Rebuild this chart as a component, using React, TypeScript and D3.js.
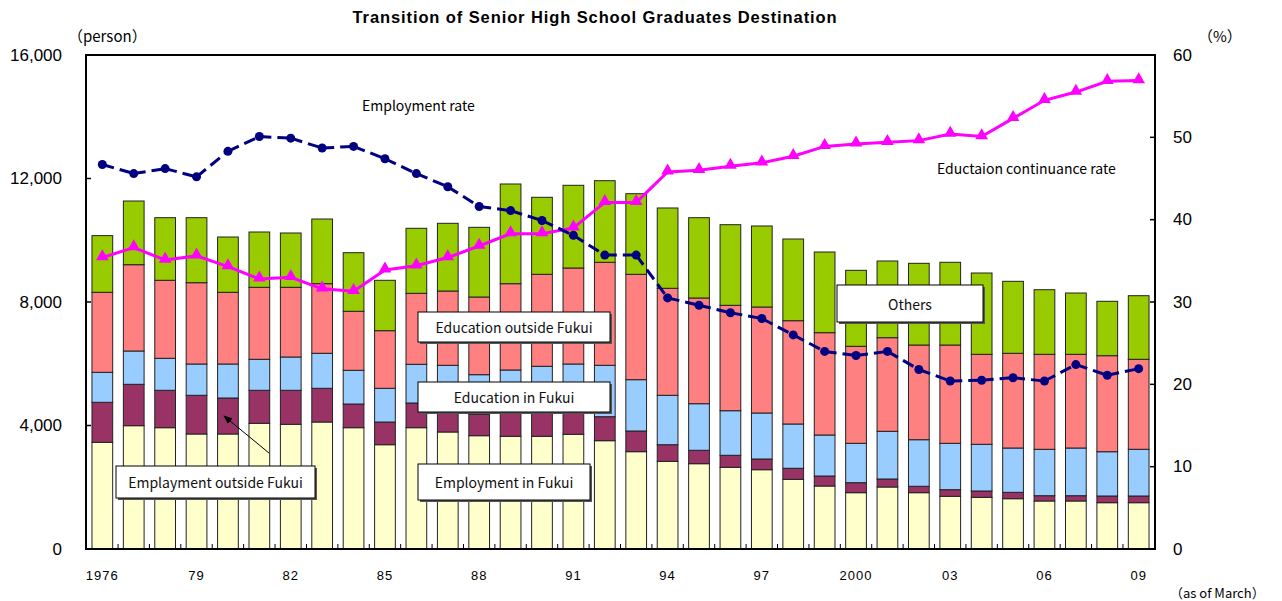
import React from 'react';
import * as d3 from 'd3';

// fiscal years 1976..2009 (as of March)
const years = d3.range(1976, 2010);
const yearLabels = ['1976', '', '', '79', '', '', '82', '', '', '85', '', '', '88', '', '', '91', '', '', '94', '', '', '97', '', '', '2000', '', '', '03', '', '', '06', '', '', '09'];

// persons, bottom to top of each stack
const employmentInFukui = [3456, 3994, 3929, 3725, 3725, 4071, 4039, 4113, 3929, 3378, 3929, 3790, 3670, 3650, 3650, 3715, 3508, 3152, 2840, 2763, 2646, 2568, 2257, 2040, 1824, 2008, 1824, 1707, 1674, 1629, 1555, 1555, 1500, 1500];
const employmentOutside = [1295, 1340, 1211, 1253, 1166, 1069, 1101, 1092, 767, 735, 800, 810, 693, 800, 800, 785, 777, 670, 538, 434, 389, 347, 357, 324, 324, 259, 207, 214, 205, 207, 171, 171, 217, 217];
const educationInFukui = [972, 1079, 1037, 1014, 1101, 1004, 1079, 1134, 1092, 1092, 1253, 1350, 1283, 1348, 1468, 1492, 1665, 1662, 1600, 1509, 1444, 1490, 1435, 1328, 1275, 1545, 1509, 1502, 1512, 1435, 1503, 1545, 1434, 1512];
const educationOutside = [2591, 2795, 2526, 2633, 2322, 2332, 2257, 2254, 1911, 1866, 2300, 2406, 2516, 2795, 2979, 3109, 3336, 3413, 3466, 3424, 3414, 3433, 3345, 3314, 3142, 3032, 3067, 3184, 2915, 3068, 3077, 3035, 3110, 2915];
const others = [1836, 2063, 2028, 2106, 1791, 1791, 1759, 2095, 1898, 1632, 2105, 2193, 2257, 3229, 2494, 2679, 2643, 2611, 2601, 2601, 2611, 2624, 2646, 2613, 2461, 2484, 2646, 2679, 2633, 2331, 2092, 1985, 1762, 2060];

// percent
const employmentRate = [46.7, 45.6, 46.2, 45.2, 48.3, 50.1, 49.9, 48.7, 48.9, 47.4, 45.6, 44.0, 41.6, 41.1, 39.9, 38.1, 35.7, 35.7, 30.5, 29.6, 28.7, 28.0, 26.0, 24.0, 23.5, 24.0, 21.8, 20.4, 20.5, 20.8, 20.4, 22.4, 21.1, 21.9];
const educationRate = [35.4, 36.6, 35.1, 35.6, 34.3, 32.8, 33.0, 31.6, 31.3, 33.9, 34.4, 35.4, 36.8, 38.3, 38.3, 39.0, 42.1, 42.1, 45.8, 46.0, 46.5, 46.9, 47.7, 48.9, 49.2, 49.4, 49.6, 50.4, 50.1, 52.3, 54.5, 55.5, 56.8, 56.9];

const leftTicks = [0, 4000, 8000, 12000, 16000];
const rightTicks = [0, 10, 20, 30, 40, 50, 60];

const seriesKeys = ['empIn', 'empOut', 'eduIn', 'eduOut', 'others'];
const colors: Record<string, string> = {
  empIn: '#FFFFCC',
  empOut: '#993366',
  eduIn: '#99CCFF',
  eduOut: '#FF8080',
  others: '#99CC00'
};

const W = 1282;
const H = 601;
const left = 86;
const right = 1155;
const top = 55;
const bottom = 549;

const App: React.FC = () => {
  const rows = years.map((y, i) => ({
    year: y,
    empIn: employmentInFukui[i],
    empOut: employmentOutside[i],
    eduIn: educationInFukui[i],
    eduOut: educationOutside[i],
    others: others[i]
  }));
  const stacked = d3.stack<any>().keys(seriesKeys)(rows);

  const x = d3.scaleBand<number>().domain(years).range([left, right]).paddingInner(0.34).paddingOuter(0.19);
  const y = d3.scaleLinear().domain([0, 16000]).range([bottom, top]);
  const yr = d3.scaleLinear().domain([0, 60]).range([bottom, top]);
  const cx = (yr0: number) => (x(yr0) || 0) + x.bandwidth() / 2;
  const fmt = d3.format(',');

  const eduLine = d3.line<number>().x((_, i) => cx(years[i])).y(d => yr(d));
  const tri = d3.symbol().type(d3.symbolTriangle).size(70)();

  const font = "'Liberation Sans', Arial, sans-serif";
  const labelFont = "'Noto Sans CJK JP', 'Liberation Sans', sans-serif";

  const box = (bx: number, by: number, bw: number, bh: number, text: string) => (
    <g key={text}>
      <rect x={bx + 2} y={by + 2} width={bw} height={bh} fill="#555" />
      <rect x={bx} y={by} width={bw} height={bh} fill="#fff" stroke="#000" strokeWidth={1} />
      <text x={bx + bw / 2} y={by + bh / 2} textAnchor="middle" dominantBaseline="central" fontSize={14} fontFamily={labelFont} fill="#111">{text}</text>
    </g>
  );

  return (
    <svg width={W} height={H} style={{ position: 'absolute', left: 0, top: 0, background: '#fff' }}>
      <defs>
        <marker id="arrow" viewBox="0 0 10 10" refX="9" refY="5" markerWidth="9" markerHeight="9" orient="auto-start-reverse">
          <path d="M0,1 L10,5 L0,9 z" fill="#000" />
        </marker>
      </defs>
      <text x={595} y={17} textAnchor="middle" dominantBaseline="central" fontSize={16.5} letterSpacing={0.9} fontWeight="bold" fontFamily={font}>
        Transition of Senior High School Graduates Destination
      </text>
      <text x={68} y={35} dominantBaseline="central" fontSize={15} fontFamily={labelFont}>（person）</text>
      <text x={1198} y={35} dominantBaseline="central" fontSize={15} fontFamily={labelFont}>（%）</text>

      {/* bars */}
      {stacked.map(s => (
        <g key={s.key}>
          {s.map((d, i) => (
            <rect key={i} x={x(years[i])} y={y(d[1])} width={x.bandwidth()} height={y(d[0]) - y(d[1])}
              fill={colors[s.key]} stroke="#222" strokeWidth={1} />
          ))}
        </g>
      ))}

      {/* frame */}
      <rect x={left} y={top} width={right - left} height={bottom - top} fill="none" stroke="#000" strokeWidth={2} />

      {/* left axis */}
      {leftTicks.map(t => (
        <g key={t}>
          <line x1={left} x2={left + 5} y1={y(t)} y2={y(t)} stroke="#000" strokeWidth={1.5} />
          <text x={62} y={y(t)} textAnchor="end" dominantBaseline="central" fontSize={17} fontFamily={font}>{fmt(t)}</text>
        </g>
      ))}
      {/* right axis */}
      {rightTicks.map(t => (
        <g key={t}>
          <line x1={right - 5} x2={right} y1={yr(t)} y2={yr(t)} stroke="#000" strokeWidth={1.5} />
          <text x={1173} y={yr(t)} dominantBaseline="central" fontSize={17} fontFamily={font}>{t}</text>
        </g>
      ))}
      {/* x ticks between categories */}
      {years.slice(1).map(yy => {
        const xb = (x(yy) || 0) - (x.step() - x.bandwidth()) / 2;
        return <line key={yy} x1={xb} x2={xb} y1={bottom} y2={bottom - 5} stroke="#000" strokeWidth={1} />;
      })}
      {yearLabels.map((l, i) => l ? (
        <text key={i} x={cx(years[i])} y={575} textAnchor="middle" dominantBaseline="central" fontSize={13} letterSpacing={1} fontFamily={font}>{l}</text>
      ) : null)}
      <text x={1170} y={592} dominantBaseline="central" fontSize={13} fontFamily={labelFont}>（as of March）</text>

      {/* education continuance rate */}
      <path d={eduLine(educationRate) || ''} fill="none" stroke="#FF00FF" strokeWidth={3} />
      {educationRate.map((v, i) => (
        <path key={i} d={tri || ''} transform={`translate(${cx(years[i])},${yr(v) - 1})`} fill="#FF00FF" />
      ))}

      {/* employment rate */}
      {employmentRate.slice(1).map((v, i) => (
        <line key={i} x1={cx(years[i])} y1={yr(employmentRate[i])} x2={cx(years[i + 1])} y2={yr(v)}
          stroke="#000080" strokeWidth={3} strokeDasharray="12,6" />
      ))}
      {employmentRate.map((v, i) => (
        <circle key={i} cx={cx(years[i])} cy={yr(v)} r={4.5} fill="#000080" />
      ))}

      {/* labels */}
      <text x={362} y={105} dominantBaseline="central" fontSize={14} fontFamily={labelFont}>Employment rate</text>
      <text x={937} y={168} dominantBaseline="central" fontSize={14} fontFamily={labelFont}>Eductaion continuance rate</text>
      {box(418, 312, 192, 30, 'Education outside Fukui')}
      {box(418, 382, 192, 30, 'Education in Fukui')}
      {box(418, 464, 172, 36, 'Employment in Fukui')}
      {box(837, 285, 146, 37, 'Others')}
      <line x1={269} y1={453} x2={224} y2={416} stroke="#000" strokeWidth={1} markerEnd="url(#arrow)" />
      {box(116, 466, 199, 32, 'Emplayment outside Fukui')}
    </svg>
  );
};

export default App;
